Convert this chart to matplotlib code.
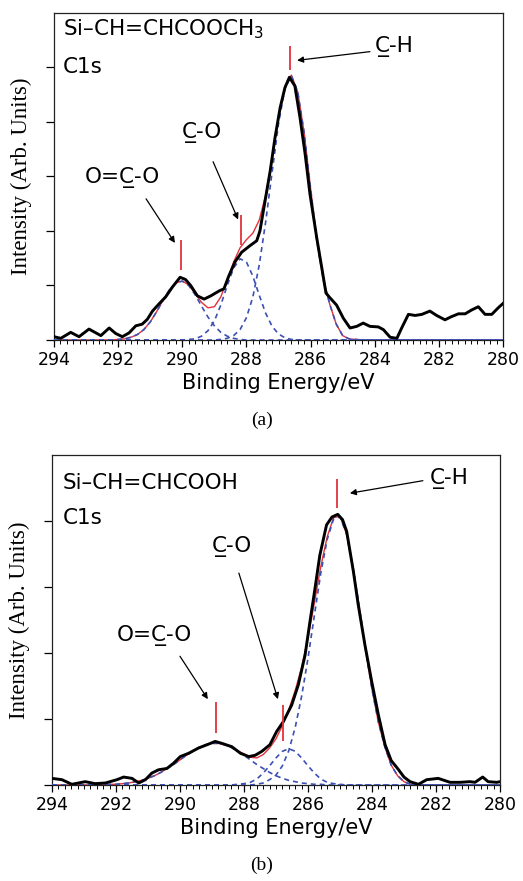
import numpy as np
import matplotlib
matplotlib.use('Agg')
import matplotlib.pyplot as plt
from matplotlib.ticker import MultipleLocator

# ---- panel (a): Si-CH=CHCOOCH3 ----
be_a = [294.0, 293.79, 293.48, 293.22, 292.91, 292.54, 292.28, 292.08, 291.87, 291.66,
        291.45, 291.25, 291.09, 290.93, 290.73, 290.52, 290.31, 290.07, 289.9, 289.74,
        289.53, 289.32, 289.11, 288.85, 288.7, 288.56, 288.36, 288.15, 287.89, 287.68,
        287.58, 287.42, 287.26, 287.11, 286.95, 286.8, 286.66, 286.49, 286.33, 286.17,
        286.02, 285.81, 285.65, 285.52, 285.39, 285.19, 284.98, 284.77, 284.56, 284.36,
        284.15, 283.89, 283.73, 283.52, 283.31, 283.16, 282.95, 282.74, 282.53, 282.28,
        282.07, 281.81, 281.6, 281.39, 281.18, 280.98, 280.77, 280.56, 280.35, 280.15, 280.0]
counts_a = [0.06, 0.03, 0.14, 0.06, 0.2, 0.08, 0.22, 0.12, 0.06, 0.13,
            0.26, 0.29, 0.38, 0.53, 0.66, 0.79, 0.97, 1.15, 1.11, 1.0,
            0.81, 0.75, 0.81, 0.9, 0.94, 1.16, 1.43, 1.61, 1.73, 1.82,
            2.0, 2.55, 3.1, 3.71, 4.26, 4.63, 4.82, 4.66, 4.08, 3.41,
            2.68, 1.88, 1.32, 0.86, 0.77, 0.64, 0.40, 0.22, 0.25, 0.31,
            0.25, 0.24, 0.19, 0.05, 0.03, 0.22, 0.47, 0.45, 0.47, 0.53,
            0.45, 0.37, 0.43, 0.48, 0.48, 0.55, 0.61, 0.47, 0.47, 0.59, 0.67]

grid_a = np.round(np.arange(292.4, 284.3, -0.2), 1)
oco_a = [0.00, 0.00, 0.01, 0.02, 0.05, 0.10, 0.19, 0.33, 0.52, 0.73, 0.92, 1.05, 1.08,
         1.00, 0.83, 0.62, 0.42, 0.26, 0.14, 0.07, 0.03, 0.01] + [0.0] * 19
co_a = [0.0] * 13 + [0.01, 0.02, 0.07, 0.17, 0.35, 0.64, 1.00, 1.32, 1.49, 1.43, 1.17,
                     0.82, 0.49, 0.25, 0.11, 0.04, 0.01] + [0.0] * 11
ch_a = [0.0] * 18 + [0.01, 0.03, 0.08, 0.19, 0.41, 0.79, 1.38, 2.17, 3.08, 3.97, 4.61,
                     4.85, 4.55, 3.80, 2.78, 1.80, 1.10, 0.65, 0.29, 0.08, 0.02, 0.01, 0.00]
fit_a = [0.00, 0.00, 0.01, 0.02, 0.05, 0.10, 0.19, 0.33, 0.52, 0.73, 0.92, 1.05, 1.08,
         1.01, 0.85, 0.69, 0.59, 0.61, 0.79, 1.10, 1.43, 1.69, 1.84, 1.96, 2.20, 2.66,
         3.33, 4.08, 4.65, 4.86, 4.55, 3.80, 2.78, 1.80, 1.10, 0.65, 0.29, 0.08, 0.02,
         0.01, 0.00]
mark_x_a = [290.05, 288.18, 286.64]
mark_lo_a = [1.29, 1.75, 4.96]
mark_hi_a = [1.84, 2.30, 5.39]

# ---- panel (b): Si-CH=CHCOOH ----
be_b = [294.0, 293.69, 293.38, 292.96, 292.65, 292.33, 291.97, 291.76, 291.5, 291.29,
        291.08, 290.88, 290.67, 290.41, 290.2, 289.99, 289.73, 289.42, 289.1, 288.9,
        288.69, 288.38, 288.11, 287.85, 287.65, 287.44, 287.19, 286.98, 286.77, 286.51,
        286.3, 286.09, 285.94, 285.78, 285.63, 285.42, 285.25, 285.07, 284.92, 284.79,
        284.58, 284.43, 284.22, 284.01, 283.8, 283.59, 283.4, 283.2, 283.0, 282.81,
        282.55, 282.29, 281.93, 281.56, 281.25, 280.94, 280.78, 280.54, 280.37, 280.1, 280.0]
counts_b = [0.10, 0.08, 0.01, 0.05, 0.02, 0.03, 0.08, 0.12, 0.10, 0.03,
            0.08, 0.18, 0.23, 0.25, 0.33, 0.43, 0.48, 0.56, 0.62, 0.66,
            0.63, 0.58, 0.48, 0.43, 0.45, 0.51, 0.61, 0.81, 0.96, 1.21,
            1.52, 1.97, 2.47, 2.98, 3.48, 3.94, 4.06, 4.10, 4.02, 3.84,
            3.23, 2.73, 2.12, 1.57, 1.06, 0.61, 0.37, 0.25, 0.12, 0.05,
            0.01, 0.08, 0.10, 0.04, 0.04, 0.05, 0.04, 0.12, 0.05, 0.04, 0.05]

grid_b = np.round(np.arange(292.4, 282.3, -0.2), 1)
oco_b = [0.00, 0.01, 0.01, 0.02, 0.03, 0.05, 0.07, 0.10, 0.14, 0.19, 0.25, 0.31, 0.38,
         0.45, 0.51, 0.57, 0.61, 0.63, 0.63, 0.61, 0.57, 0.51, 0.45, 0.38, 0.31, 0.25,
         0.19, 0.14, 0.10, 0.07, 0.05, 0.03, 0.02, 0.01, 0.01] + [0.0] * 16
co_b = [0.0] * 21 + [0.01, 0.02, 0.04, 0.09, 0.18, 0.29, 0.41, 0.51, 0.55, 0.51, 0.41,
                     0.29, 0.18, 0.09, 0.04, 0.02, 0.01] + [0.0] * 13
ch_b = [0.0] * 24 + [0.01, 0.03, 0.08, 0.15, 0.29, 0.52, 0.87, 1.34, 1.92, 2.57, 3.21,
                     3.72, 4.03, 4.06, 3.81, 3.32, 2.71, 2.05, 1.45, 0.95, 0.58, 0.30,
                     0.14, 0.05, 0.01, 0.00, 0.00]
fit_b = [0.00, 0.01, 0.01, 0.02, 0.03, 0.05, 0.07, 0.10, 0.14, 0.19, 0.25, 0.31, 0.38,
         0.45, 0.51, 0.57, 0.61, 0.63, 0.63, 0.61, 0.57, 0.52, 0.47, 0.42, 0.41,
         0.46, 0.56, 0.70, 0.90, 1.14, 1.43, 1.78, 2.23, 2.76, 3.31, 3.76, 4.05, 4.07,
         3.81, 3.32, 2.71, 2.05, 1.45, 0.95, 0.58, 0.30, 0.14, 0.05, 0.01, 0.00, 0.00]
mark_x_b = [288.875, 286.77, 285.1]
mark_lo_b = [0.78, 0.66, 4.19]
mark_hi_b = [1.26, 1.21, 4.63]

RED = '#e2323c'
BLUE = '#3c50b4'
FS = 15.5


def pad(grid, vals):
    # fitted curves run along the baseline over the whole range
    return [294.0] + list(grid) + [280.0], [0.0] + list(vals) + [0.0]


def draw_panel(ax, be, counts, grid, comps, fit, mx, mlo, mhi, ymax):
    gx, gy = pad(grid, fit)
    ax.plot(gx, gy, color=RED, lw=1.0, zorder=2)
    for c in comps:
        cx, cy = pad(grid, c)
        ax.plot(cx, cy, color=BLUE, lw=1.2, ls=(0, (3, 2.4)), zorder=3)
    ax.plot(be, counts, color='k', lw=2.1, zorder=4)
    ax.vlines(mx, mlo, mhi, color=RED, lw=1.3, zorder=5)

    ax.set_xlim(294, 280)
    ax.set_ylim(0, ymax)
    ax.set_xticks([294, 292, 290, 288, 286, 284, 282, 280])
    ax.xaxis.set_minor_locator(MultipleLocator(0.2))
    ax.set_yticks(range(0, ymax))
    ax.set_yticklabels([])
    ax.tick_params(axis='x', which='major', direction='out', length=5, width=0.9,
                   labelsize=12.5, pad=3)
    ax.tick_params(axis='x', which='minor', direction='out', length=3, width=0.7)
    ax.tick_params(axis='y', direction='out', length=6, width=0.9)
    for s in ax.spines.values():
        s.set_linewidth(0.9)
        s.set_color('#222222')
    ax.set_xlabel('Binding Energy/eV', fontsize=15, labelpad=3)
    ax.set_ylabel('Intensity (Arb. Units)', fontsize=16.5, family='Liberation Serif',
                  labelpad=6)


def label(ax, text, pos, tail, head):
    ax.text(pos[0], pos[1], text, fontsize=FS, ha='left', va='center')
    ax.annotate('', xy=head, xytext=tail,
                arrowprops=dict(arrowstyle='-|>', color='k', lw=0.9,
                                mutation_scale=9, shrinkA=0, shrinkB=0))


fig = plt.figure(figsize=(5.23, 8.81), dpi=100)

ax1 = fig.add_axes([0.1033, 0.6141, 0.8585, 0.3712])
draw_panel(ax1, be_a, counts_a, grid_a, [oco_a, co_a, ch_a], fit_a,
           mark_x_a, mark_lo_a, mark_hi_a, 6)
ax1.text(293.72, 5.70, 'Si\u2013CH=CHCOOCH$_{3}$', fontsize=FS, va='center')
ax1.text(293.72, 5.00, 'C1s', fontsize=FS, va='center')
label(ax1, 'C\u0332-H', (283.99, 5.39), (284.15, 5.29), (286.42, 5.13))
label(ax1, 'C\u0332-O', (290.01, 3.81), (289.04, 3.27), (288.26, 2.21))
label(ax1, 'O=C\u0332-O', (293.03, 2.98), (291.13, 2.59), (290.23, 1.78))

ax2 = fig.add_axes([0.0994, 0.109, 0.8566, 0.3746])
draw_panel(ax2, be_b, counts_b, grid_b, [oco_b, co_b, ch_b], fit_b,
           mark_x_b, mark_lo_b, mark_hi_b, 5)
ax2.text(293.66, 4.58, 'Si\u2013CH=CHCOOH', fontsize=FS, va='center')
ax2.text(293.66, 4.05, 'C1s', fontsize=FS, va='center')
label(ax2, 'C\u0332-H', (282.19, 4.65), (282.41, 4.61), (284.69, 4.42))
label(ax2, 'C\u0332-O', (289.0, 3.61), (288.16, 3.21), (286.94, 1.30))
label(ax2, 'O=C\u0332-O', (291.97, 2.27), (290.0, 1.95), (289.13, 1.30))

fig.text(0.501, 0.523, '(a)', fontsize=14, family='Liberation Serif', ha='center', va='center')
fig.text(0.501, 0.018, '(b)', fontsize=14, family='Liberation Serif', ha='center', va='center')

fig.savefig('out.png', dpi=100)
